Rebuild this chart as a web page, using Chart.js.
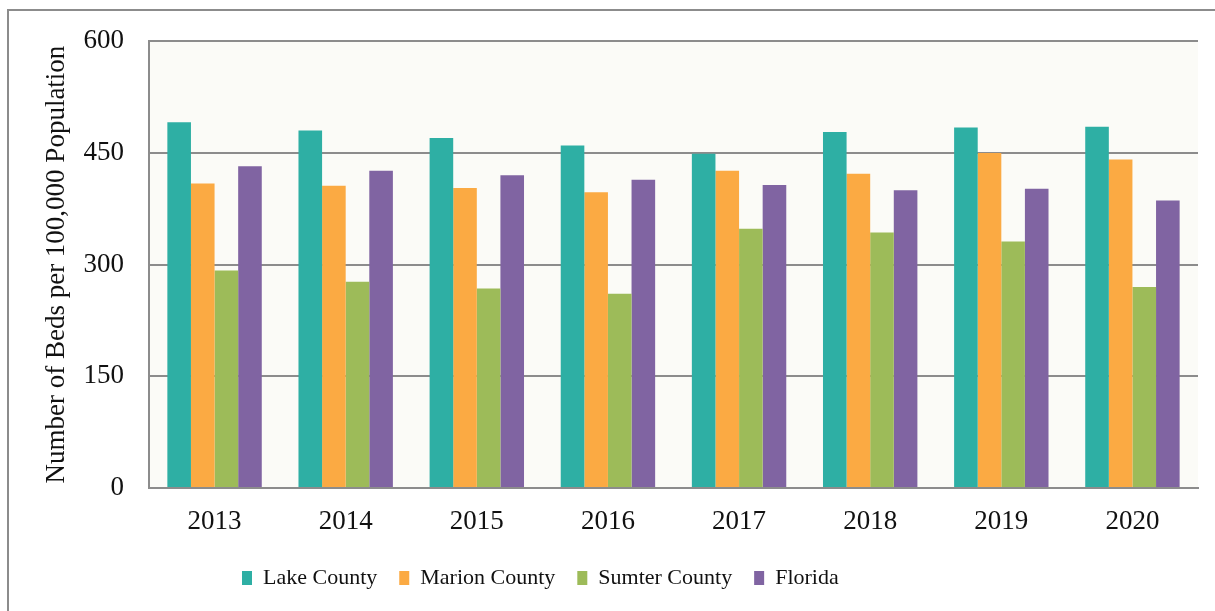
<!DOCTYPE html>
<html>
<head>
<meta charset="utf-8">
<script src="https://cdn.jsdelivr.net/npm/chart.js@4/dist/chart.umd.min.js"></script>
<style>
  html, body { margin: 0; padding: 0; background: #fff; overflow: hidden; }
  #frame { position: absolute; left: 7px; top: 9px; width: 1400px; height: 800px; border: 2px solid #8c8c8c; }
  #wrap { position: absolute; left: 0; top: 0; width: 1215px; height: 611px; }
</style>
</head>
<body>
<div id="frame"></div>
<div id="wrap"><canvas id="chartCamas"></canvas></div>
<script>
// datos
const years = ['2013', '2014', '2015', '2016', '2017', '2018', '2019', '2020'];
const lakeCounty = [491, 480, 470, 460, 449, 478, 484, 485];
const marionCounty = [409, 406, 403, 397, 426, 422, 450, 441];
const sumterCounty = [292, 277, 268, 261, 348, 343, 331, 270];
const florida = [432, 426, 420, 414, 407, 400, 402, 386];
const yTicks = [0, 150, 300, 450, 600];

const serif = '"Liberation Serif", "Times New Roman", serif';

// fondo del area de trazado
const plotBg = {
    id: 'plotBg',
    beforeDraw(chart) {
        const a = chart.chartArea;
        const ctx = chart.ctx;
        ctx.save();
        ctx.fillStyle = '#fbfbf7';
        ctx.fillRect(a.left, a.top, a.right - a.left, a.bottom - a.top);
        ctx.restore();
    }
};

// mover la leyenda a su sitio
const legendShift = {
    id: 'legendShift',
    afterLayout(chart) {
        const l = chart.legend;
        const dx = 242 - 22 - l.left;
        l.left += dx;
        l.right += dx;
    }
};

const ctx = document.getElementById('chartCamas').getContext('2d');
new Chart(ctx, {
    type: 'bar',
    data: {
        labels: years,
        datasets: [
            { label: 'Lake County', data: lakeCounty, backgroundColor: '#2eafa4' },
            { label: 'Marion County', data: marionCounty, backgroundColor: '#fbaa43' },
            { label: 'Sumter County', data: sumterCounty, backgroundColor: '#9dbb59' },
            { label: 'Florida', data: florida, backgroundColor: '#8064a2' }
        ]
    },
    options: {
        responsive: true,
        maintainAspectRatio: false,
        animation: false,
        layout: { padding: { top: 35, right: 17, bottom: 12, left: 0 } },
        datasets: { bar: { categoryPercentage: 0.72, barPercentage: 1.0 } },
        scales: {
            x: {
                grid: { display: false, drawTicks: false },
                border: { color: '#8c8c8c', width: 2 },
                ticks: { color: '#111', font: { family: serif, size: 27 }, padding: 18 },
                afterFit(scale) { scale.height = 57; }
            },
            y: {
                min: 0,
                max: 600,
                afterBuildTicks(scale) { scale.ticks = yTicks.map(v => ({ value: v })); },
                grid: { color: '#8c8c8c', lineWidth: 2, drawTicks: false },
                border: { color: '#8c8c8c', width: 2 },
                ticks: { color: '#111', font: { family: serif, size: 27 }, padding: 25 },
                title: {
                    display: true,
                    text: 'Number of Beds per 100,000 Population',
                    color: '#111',
                    font: { family: serif, size: 27 },
                    padding: { top: 41, bottom: 0 }
                },
                afterFit(scale) { scale.width = 149; }
            }
        },
        plugins: {
            legend: {
                position: 'bottom',
                align: 'start',
                labels: {
                    color: '#111',
                    font: { family: serif, size: 22 },
                    boxWidth: 10,
                    boxHeight: 14,
                    padding: 22
                }
            },
            tooltip: { enabled: false }
        }
    },
    plugins: [plotBg, legendShift]
});
</script>
</body>
</html>
